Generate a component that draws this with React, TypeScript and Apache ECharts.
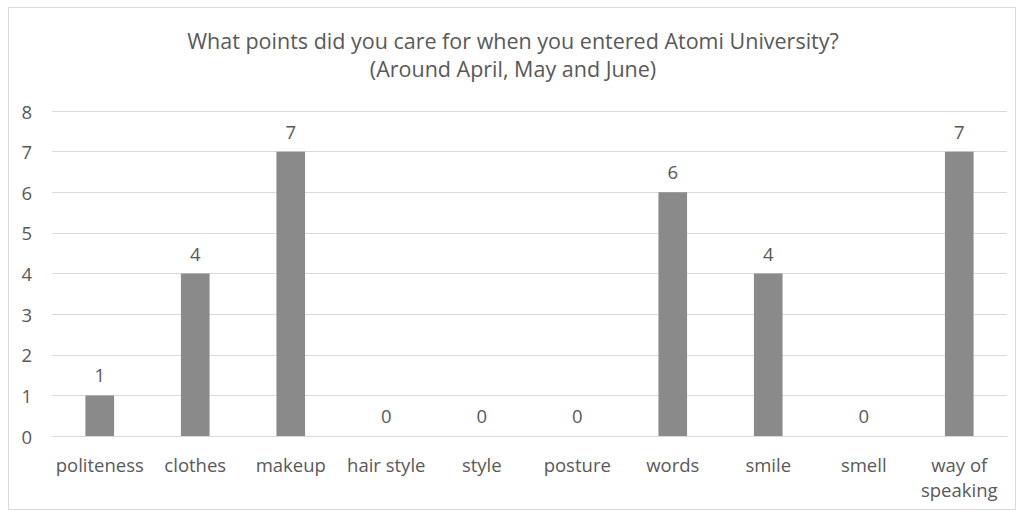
import React, { useEffect, useRef } from "react";
import * as echarts from "echarts";

const categories = ["politeness", "clothes", "makeup", "hair style", "style", "posture", "words", "smile", "smell", "way of\nspeaking"];
const values = [1, 4, 7, 0, 0, 0, 6, 4, 0, 7];
const titleText = "What points did you care for when you entered Atomi University?\n(Around April, May and June)";
const yMin = 0;
const yMax = 8;
const yInterval = 1;

const FONT = "'Open Sans', 'Noto Sans', sans-serif";
const TEXT = "#595959";

export default function App() {
  const ref = useRef<HTMLDivElement>(null);
  useEffect(() => {
    if (!ref.current) return;
    const chart = echarts.init(ref.current, null, { renderer: "svg" });
    chart.setOption({
      animation: false,
      backgroundColor: "#ffffff",
      textStyle: { fontFamily: FONT },
      title: {
        text: titleText,
        left: "center",
        top: 21,
        textStyle: { fontFamily: FONT, fontSize: 21.5, fontWeight: "normal", color: TEXT, lineHeight: 28 },
      },
      graphic: [
        {
          type: "rect",
          shape: { x: 8.5, y: 7.5, width: 1007, height: 502 },
          style: { fill: "none", stroke: "#d9d9d9", lineWidth: 1 },
          silent: true,
        },
      ],
      grid: { left: 52, right: 19, top: 111, bottom: 76, containLabel: false },
      xAxis: {
        type: "category",
        data: categories,
        axisLine: { show: true, lineStyle: { color: "#d9d9d9" } },
        axisTick: { show: false },
        axisLabel: { color: TEXT, fontSize: 18.5, fontFamily: FONT, margin: 16, lineHeight: 25, interval: 0 },
      },
      yAxis: {
        type: "value",
        min: yMin,
        max: yMax,
        interval: yInterval,
        axisLine: { show: false },
        axisTick: { show: false },
        splitLine: { lineStyle: { color: "#d9d9d9" } },
        axisLabel: { color: TEXT, fontSize: 18.5, fontFamily: FONT, margin: 20 },
      },
      series: [
        {
          type: "bar",
          data: values,
          barWidth: "30%",
          itemStyle: { color: "#8a8a8a" },
          label: { show: true, position: "top", distance: 11, color: TEXT, fontSize: 18.5, fontFamily: FONT },
        },
      ],
    });
    return () => chart.dispose();
  }, []);
  return <div ref={ref} style={{ position: "fixed", left: 0, top: 0, width: 1026, height: 512 }} />;
}
